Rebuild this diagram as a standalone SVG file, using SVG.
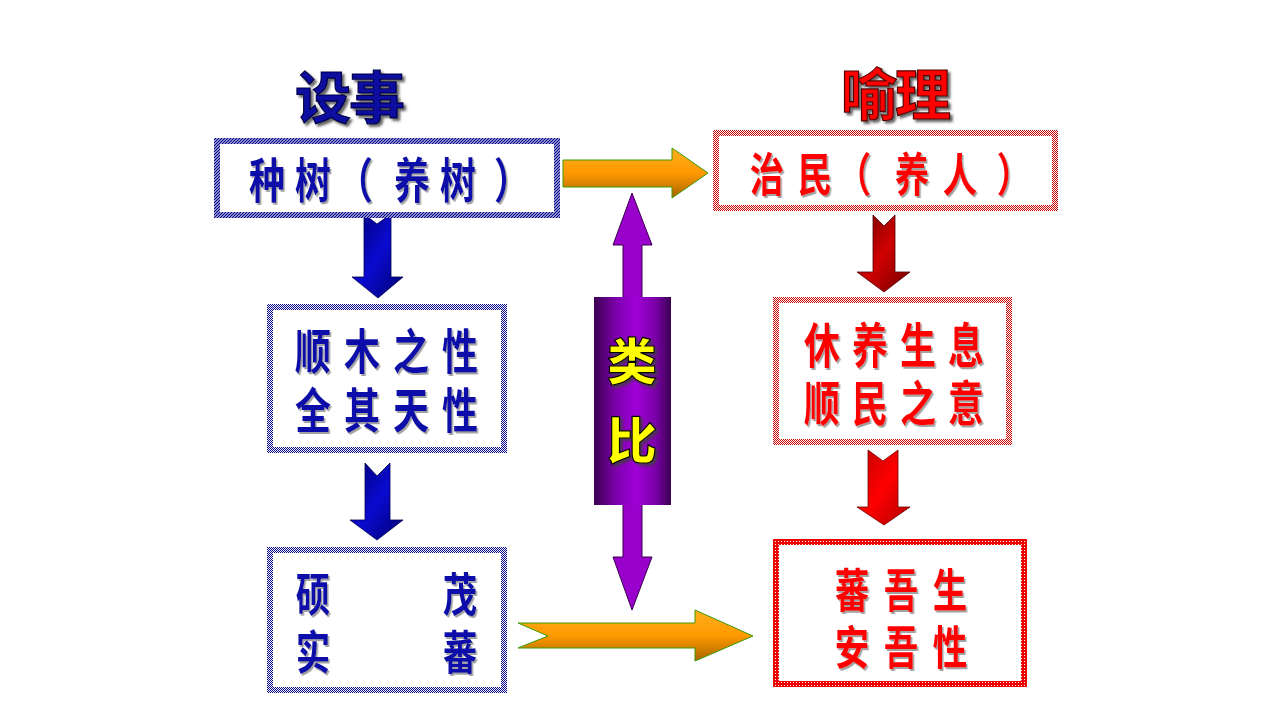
<svg xmlns="http://www.w3.org/2000/svg" width="1280" height="720" viewBox="0 0 1280 720">
<defs>
  <pattern id="bhatch" patternUnits="userSpaceOnUse" width="3" height="3">
    <rect width="3" height="3" fill="#ffffff"/>
    <path d="M-1,1 L1,-1 M0,3 L3,0 M2,4 L4,2" stroke="#00008a" stroke-width="1.3"/>
  </pattern>
  <pattern id="bcheck" patternUnits="userSpaceOnUse" width="2" height="2">
    <rect width="2" height="2" fill="#ffffff"/>
    <rect width="1" height="1" fill="#00008a"/>
    <rect x="1" y="1" width="1" height="1" fill="#00008a"/>
  </pattern>
  <pattern id="rcheck" patternUnits="userSpaceOnUse" width="2" height="2">
    <rect width="2" height="2" fill="#ffffff"/>
    <rect width="1" height="1" fill="#c80000"/>
    <rect x="1" y="1" width="1" height="1" fill="#c80000"/>
  </pattern>
  <pattern id="rdots" patternUnits="userSpaceOnUse" width="3" height="3">
    <rect width="3" height="3" fill="#ee0000"/>
    <rect x="1" y="1" width="1" height="1" fill="#ffffff"/>
  </pattern>
  <linearGradient id="gOrange" x1="0" y1="0" x2="0" y2="1">
    <stop offset="0" stop-color="#ffb020"/>
    <stop offset="0.5" stop-color="#ff9900"/>
    <stop offset="1" stop-color="#a86400"/>
  </linearGradient>
  <linearGradient id="gBlue" x1="0" y1="0" x2="1" y2="1">
    <stop offset="0" stop-color="#000070"/>
    <stop offset="0.5" stop-color="#0a0ad0"/>
    <stop offset="1" stop-color="#000070"/>
  </linearGradient>
  <linearGradient id="gRed1" x1="0" y1="0" x2="1" y2="1">
    <stop offset="0" stop-color="#700000"/>
    <stop offset="0.5" stop-color="#d00000"/>
    <stop offset="1" stop-color="#700000"/>
  </linearGradient>
  <linearGradient id="gRed2" x1="0" y1="0" x2="1" y2="1">
    <stop offset="0" stop-color="#c00000"/>
    <stop offset="0.5" stop-color="#ff0000"/>
    <stop offset="1" stop-color="#b00000"/>
  </linearGradient>
  <linearGradient id="gPurple" x1="0" y1="0" x2="1" y2="0">
    <stop offset="0" stop-color="#3a0050"/>
    <stop offset="0.3" stop-color="#8000b0"/>
    <stop offset="0.55" stop-color="#a000d8"/>
    <stop offset="0.8" stop-color="#7a00a8"/>
    <stop offset="1" stop-color="#3a0050"/>
  </linearGradient>
  <filter id="shadow" x="-10%" y="-10%" width="130%" height="130%">
    <feDropShadow dx="2" dy="2" stdDeviation="0.7" flood-color="#8a8a8a" flood-opacity="0.8"/>
  </filter>
  <filter id="shadowDark" x="-10%" y="-10%" width="130%" height="130%">
    <feDropShadow dx="2.5" dy="2.5" stdDeviation="0.8" flood-color="#404040" flood-opacity="0.8"/>
  </filter>
  <style>
    .cjk { font-family: "Noto Sans CJK SC", "Noto Sans CJK JP", sans-serif; font-weight: bold; text-anchor: middle; }
    .blue { fill: #0d0daa; filter: url(#shadow); }
    .red { fill: #ff0000; filter: url(#shadow); }
    .title { font-size: 56px; filter: url(#shadowDark); stroke-width: 1.2; }
    .tBlue { fill: #0a0aa0; stroke: #00004a; }
    .tRed { fill: #ff0000; stroke: #500000; }
    .yellow { fill: #ffff00; stroke: #000000; stroke-width: 1.2; font-size: 50px; font-weight: 900; filter: url(#shadowDark); }
    .bbox { fill: #ffffff; stroke-width: 6; }
    .orange { fill: url(#gOrange); stroke: #3c9a00; stroke-width: 1; }
    .purple { fill: #9a00cc; stroke: #3a0050; stroke-width: 1; }
  </style>
</defs>
<rect width="1280" height="720" fill="#ffffff"/>

<g id="titles">
  <text class="cjk title tBlue" x="323 377" y="118">设事</text>
  <text class="cjk title tRed" x="869 923" y="115">喻理</text>
</g>

<g id="connectors">
  <polygon class="orange" points="563,160 672,160 672,148 708,173 672,198 672,187 563,187"/>
  <polygon class="orange" points="518,623 695,623 695,610 753,636 695,661 695,648 518,648 548,636"/>
  <polygon fill="url(#gBlue)" stroke="#000050" stroke-width="0.8" points="364,214 377,224 391,214 391,277 403,277 378,298 352,277 364,277"/>
  <polygon fill="url(#gBlue)" stroke="#000050" stroke-width="0.8" points="365,463 377,476 390,463 390,520 403,520 377,540 350,520 365,520"/>
  <polygon fill="url(#gRed1)" stroke="#500000" stroke-width="0.8" points="873,215 884,226 895,215 895,272 910,272 884,292 857,272 873,272"/>
  <polygon fill="url(#gRed2)" stroke="#700000" stroke-width="0.8" points="868,450 883,461 898,450 898,507 910,507 884,525 857,507 868,507"/>
  <polygon class="purple" points="632,193 652,245 642,245 642,298 623,298 623,245 613,245"/>
  <polygon class="purple" points="623,504 642,504 642,557 652,557 632,610 613,557 623,557"/>
</g>

<g id="node-analogy">
  <rect x="594" y="297" width="77" height="208" fill="url(#gPurple)"/>
  <text class="cjk yellow" x="632" y="380">类</text>
  <text class="cjk yellow" x="632" y="459">比</text>
</g>

<g id="node-zhongshu">
  <rect class="bbox" x="217" y="141" width="340" height="74" stroke="url(#bhatch)"/>
  <text class="cjk blue" font-size="48" transform="matrix(0.75 0 0 1 0 0)" x="356 417.3 473.3 549.3 610.7 682.7" y="198">种树（养树）</text>
</g>

<g id="node-shunmu">
  <rect class="bbox" x="270" y="307" width="234" height="143" stroke="url(#bcheck)"/>
  <text class="cjk blue" font-size="48" transform="matrix(0.75 0 0 1 0 0)" x="417.3 482.7 548 613.3" y="369">顺木之性</text>
  <text class="cjk blue" font-size="48" transform="matrix(0.75 0 0 1 0 0)" x="417.3 482.7 548 613.3" y="428">全其天性</text>
</g>

<g id="node-shuoshi">
  <rect class="bbox" x="270" y="550" width="234" height="140" stroke="url(#bcheck)"/>
  <text class="cjk blue" font-size="46" transform="matrix(0.75 0 0 1 0 0)" x="417.3 613.3" y="611.5">硕茂</text>
  <text class="cjk blue" font-size="46" transform="matrix(0.75 0 0 1 0 0)" x="417.3 613.3" y="669">实蕃</text>
</g>

<g id="node-zhimin">
  <rect class="bbox" x="716" y="133" width="339" height="75" stroke="url(#rcheck)"/>
  <text class="cjk red" font-size="46" transform="matrix(0.75 0 0 1 0 0)" x="1022.7 1086.7 1138.7 1216 1280 1352" y="191">治民（养人）</text>
</g>

<g id="node-xiuyang">
  <rect class="bbox" x="776" y="300" width="233" height="142" stroke="url(#rcheck)"/>
  <text class="cjk red" font-size="48" transform="matrix(0.75 0 0 1 0 0)" x="1096 1160 1224 1288" y="363">休养生息</text>
  <text class="cjk red" font-size="48" transform="matrix(0.75 0 0 1 0 0)" x="1096 1160 1224 1288" y="421">顺民之意</text>
</g>

<g id="node-fanwu">
  <rect class="bbox" x="776" y="542" width="248" height="142" stroke="url(#rdots)"/>
  <text class="cjk red" font-size="46" transform="matrix(0.75 0 0 1 0 0)" x="1136 1201.3 1266.7" y="607.5">蕃吾生</text>
  <text class="cjk red" font-size="46" transform="matrix(0.75 0 0 1 0 0)" x="1136 1201.3 1266.7" y="664.5">安吾性</text>
</g>
</svg>
